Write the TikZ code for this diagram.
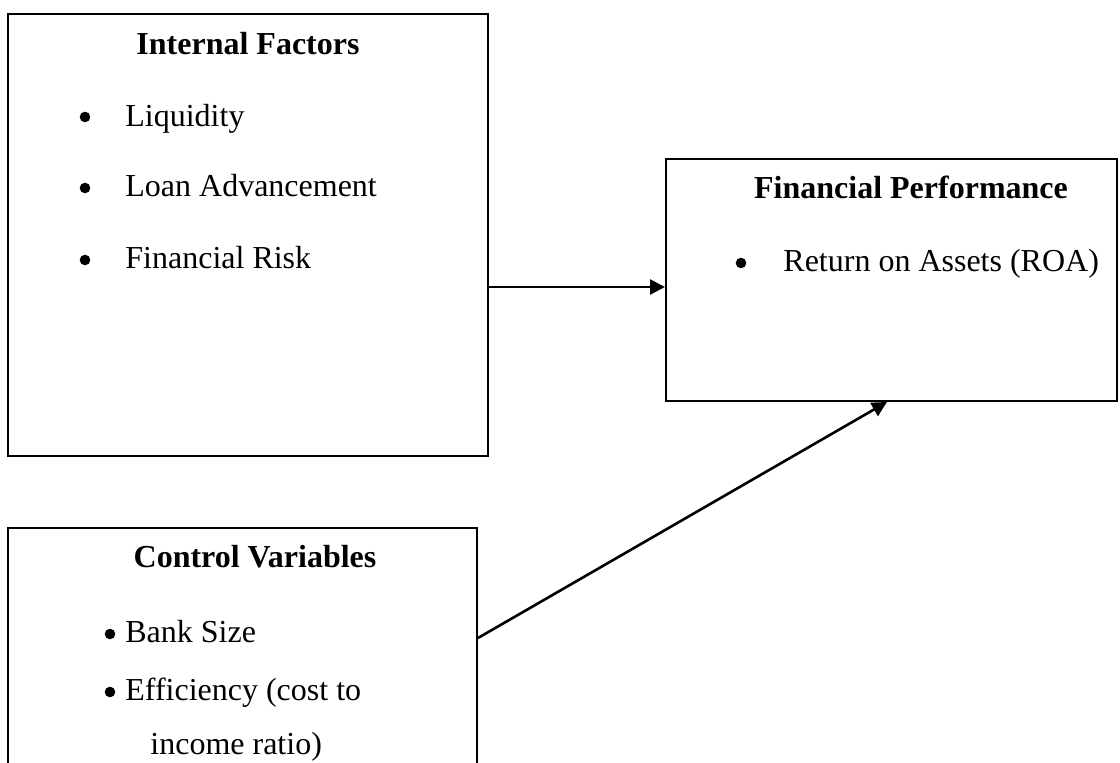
\documentclass[tikz,border=0pt]{standalone}
\usepackage{fontspec}
\setmainfont{Liberation Serif}
\usetikzlibrary{arrows.meta}
\begin{document}
\begin{tikzpicture}[x=0.5pt,y=-0.5pt,
 box/.style={draw,line width=1pt,rectangle,inner sep=0pt},
 txt/.style={anchor=base west,inner sep=0pt,font=\fontsize{16}{19}\selectfont},
 ttl/.style={anchor=base,inner sep=0pt,font=\fontsize{16}{19}\selectfont\bfseries},
 bul/.style={circle,fill,inner sep=0pt,minimum size=5.3pt},
 conn/.style={line width=1.3pt,-{Triangle[length=7.5pt,width=7.5pt]}}]
\useasboundingbox (0,0) rectangle (1120,763);
\clip (0,0) rectangle (1120,763);
% boxes
\node[box,minimum width=240pt,minimum height=221pt] (internal) at (248,235) {};
\node[box,minimum width=225.5pt,minimum height=121pt] (perf) at (891.5,280) {};
\node[box,minimum width=234.5pt,minimum height=131pt] (control) at (242.5,659) {};
% internal factors
\node[ttl] (t1) at (248,55) {Internal Factors};
\node[bul] (b11) at (85,117) {};
\node[txt] (i1) at (125,127) {Liquidity};
\node[bul] (b12) at (85,188) {};
\node[txt] (i2) at (125,197) {Loan Advancement};
\node[bul] (b13) at (85,260) {};
\node[txt] (i3) at (125,269) {Financial Risk};
% financial performance
\node[ttl] (t2) at (911,199) {Financial Performance};
\node[bul] (b21) at (741,263) {};
\node[txt] (p1) at (783,272) {Return on Assets (ROA)};
% control variables
\node[ttl] (t3) at (255,568) {Control Variables};
\node[bul] (b31) at (110,634) {};
\node[txt] (c1) at (125,643) {Bank Size};
\node[bul] (b32) at (110,692) {};
\node[txt] (c2) at (125,701) {Efficiency (cost to};
\node[txt] (c3) at (150,755) {income ratio)};
% connectors
\coordinate (y1) at (0,287);
\coordinate (s2) at (477,638);
\coordinate (e2) at (887,402);
\draw[conn] (internal.east |- y1) -- (perf.west |- y1);
\draw[conn] (control.east |- s2) -- (perf.south -| e2);
\end{tikzpicture}
\end{document}
